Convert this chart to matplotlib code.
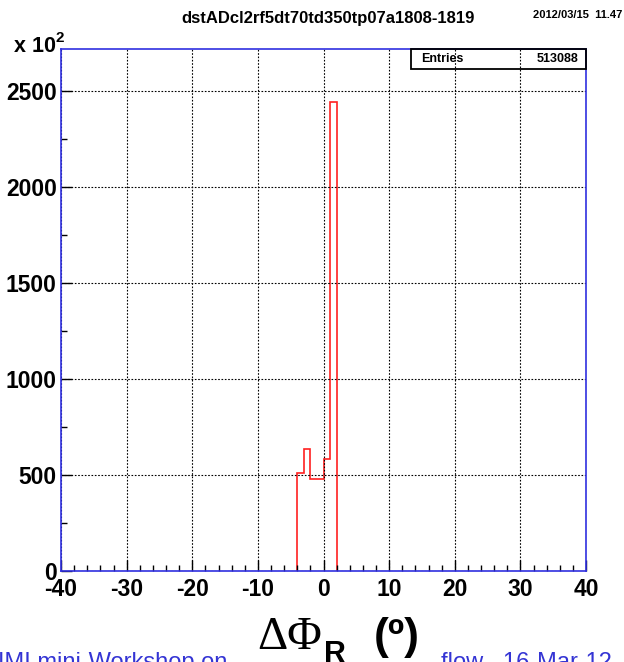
import matplotlib
matplotlib.use("Agg")
import matplotlib.pyplot as plt
from matplotlib.ticker import MultipleLocator
from matplotlib.patches import Rectangle

# ---- data (counts in units of 10^2) ----
bin_edges = [-4, -3, -2, -1, 0, 1, 2]
bin_counts = [510, 635, 480, 480, 585, 2442]
x_ticks = [-40, -30, -20, -10, 0, 10, 20, 30, 40]
y_ticks = [0, 500, 1000, 1500, 2000, 2500]
title = "dstADcl2rf5dt70td350tp07a1808-1819"
date_str = "2012/03/15  11.47"
entries = "513088"

W, H = 624, 662
fig = plt.figure(figsize=(W / 100, H / 100), dpi=100)
fig.patch.set_facecolor("white")

def fx(px):
    return px / W

def fy(py):
    return 1 - py / H

L, R, T, B = 61, 586, 49, 571
ax = fig.add_axes([fx(L), fy(B), (R - L) / W, (B - T) / H])

ax.stairs(bin_counts, bin_edges, color="#ff2020", lw=1.2, baseline=0)
ax.set_xlim(-40, 40)
ax.set_ylim(0, 2719)

ax.set_xticks(x_ticks)
ax.set_yticks(y_ticks)
ax.xaxis.set_minor_locator(MultipleLocator(2))
ax.yaxis.set_minor_locator(MultipleLocator(250))
ax.grid(True, which="major", color="black", linestyle=(0, (1.5, 1.5)), lw=0.8)
ax.tick_params(which="both", direction="in", color="black", width=1,
               top=False, right=False)
ax.tick_params(which="major", length=8)
ax.tick_params(which="minor", length=4)
ax.tick_params(axis="x", pad=5)
ax.tick_params(axis="y", pad=3)

lab_font = dict(family="Liberation Sans", weight="bold", size=16.5)
ax.set_xticklabels([str(v) for v in x_ticks], **lab_font)
ax.set_yticklabels([str(v) for v in y_ticks], **lab_font)

for s in ax.spines.values():
    s.set_color("#3030e0")
    s.set_linewidth(1.2)

# title and date
fig.text(fx(328), fy(18), title, ha="center", va="center",
         family="Liberation Sans", weight="bold", size=12)
fig.text(fx(622), fy(15), date_str, ha="right", va="center",
         family="Liberation Sans", weight="bold", size=8)

# x 10^2
fig.text(fx(14), fy(47), "x 10", ha="left", va="center",
         family="Liberation Sans", weight="bold", size=15.5)
fig.text(fx(55), fy(38), "2", ha="left", va="center",
         family="Liberation Sans", weight="bold", size=11)

# stats box
fig.patches.append(Rectangle((fx(411), fy(69)), (586 - 411) / W, (69 - 49) / H,
                             transform=fig.transFigure, fill=False,
                             edgecolor="black", lw=1.3))
fig.text(fx(421), fy(59), "Entries", ha="left", va="center",
         family="Liberation Sans", weight="bold", size=9)
fig.text(fx(578), fy(59), entries, ha="right", va="center",
         family="Liberation Sans", weight="bold", size=9)

# bottom footer (blue, partly cut off)
blue = "#3434d4"
fig.text(fx(-2), fy(669), "IMI mini-Workshop on", ha="left", va="baseline",
         family="Liberation Sans", size=17, color=blue)
fig.text(fx(612), fy(669), "flow   16-Mar-12", ha="right", va="baseline",
         family="Liberation Sans", size=17, color=blue)

# axis label
fig.text(fx(257), fy(649), "ΔΦ", ha="left", va="baseline",
         family="Liberation Serif", size=34, color="black")
fig.text(fx(324), fy(663), "R", ha="left", va="baseline",
         family="Liberation Sans", weight="bold", size=22, color="black")
fig.text(fx(374), fy(649), "(º)", ha="left", va="baseline",
         family="Liberation Sans", weight="bold", size=32, color="black")

fig.savefig("out.png", dpi=100, facecolor="white")
